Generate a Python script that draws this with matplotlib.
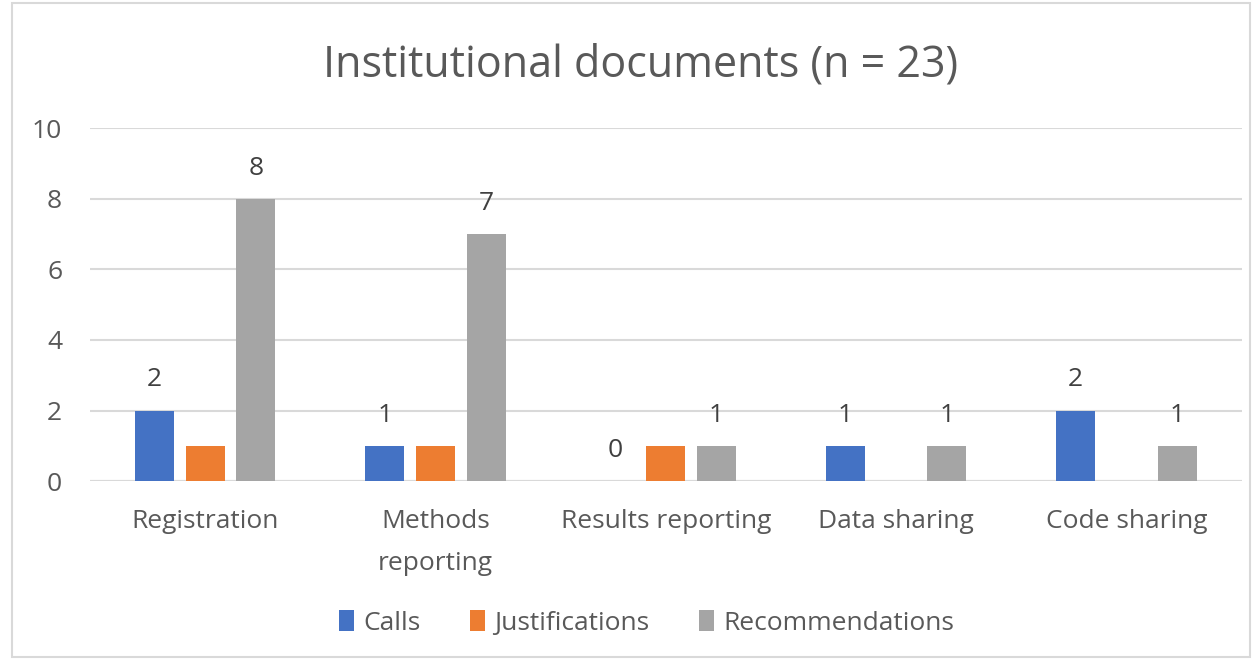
import matplotlib.pyplot as plt
import matplotlib.patches as patches
import numpy as np

categories = ["Registration", "Methods\nreporting", "Results reporting", "Data sharing", "Code sharing"]
calls = [2, 1, 0, 1, 2]
justifications = [1, 1, 1, 0, 0]
recommendations = [8, 7, 1, 1, 1]

series = [
    ("Calls", calls, "#4472c4", True),
    ("Justifications", justifications, "#ed7d31", False),
    ("Recommendations", recommendations, "#a5a5a5", True),
]

plt.rcParams["font.family"] = ["Open Sans", "DejaVu Sans"]

fig = plt.figure(figsize=(12.58, 6.6), dpi=100)
ax = fig.add_axes([0.0715, 0.271, 0.9155, 0.535])

x = np.arange(len(categories))
width = 0.17
step = 0.22
for i, (name, values, color, labelled) in enumerate(series):
    pos = x + (i - 1) * step
    ax.bar(pos, values, width, color=color, label=name, zorder=3)
    # Only calls and recommendations carry value labels in the source chart
    if labelled:
        for xp, v in zip(pos, values):
            ax.annotate(str(v), (xp, v), xytext=(0, 22), textcoords="offset points",
                        ha="center", va="center", fontsize=19, color="#404040")

ax.set_xlim(-0.5, len(categories) - 0.5)
ax.set_ylim(0, 10)
ax.set_yticks(range(0, 11, 2))
ax.yaxis.grid(True, color="#d9d9d9", linewidth=1.5, zorder=0)
for side in ["top", "right", "left", "bottom"]:
    ax.spines[side].set_visible(False)
ax.axhline(0, color="#d9d9d9", linewidth=1.5, zorder=2)
ax.tick_params(axis="both", length=0, labelsize=19, labelcolor="#595959")
ax.tick_params(axis="y", pad=20)
ax.tick_params(axis="x", pad=20)
ax.set_xticks(x)
ax.set_xticklabels(categories, linespacing=1.9)

fig.text(0.509, 0.9015, "Institutional documents (n = 23)", ha="center", va="center",
         fontsize=31, color="#595959")

leg = fig.legend(loc="center", bbox_to_anchor=(0.514, 0.056), ncol=3, frameon=False,
                 fontsize=19, handlelength=0.55, handleheight=0.8, handletextpad=0.35,
                 columnspacing=1.9)
for t in leg.get_texts():
    t.set_color("#595959")

fig.add_artist(patches.Rectangle((0.0095, 0.005), 0.984, 0.99, transform=fig.transFigure,
                                 fill=False, edgecolor="#d9d9d9", linewidth=1.5))

fig.savefig("out.png", dpi=100)
